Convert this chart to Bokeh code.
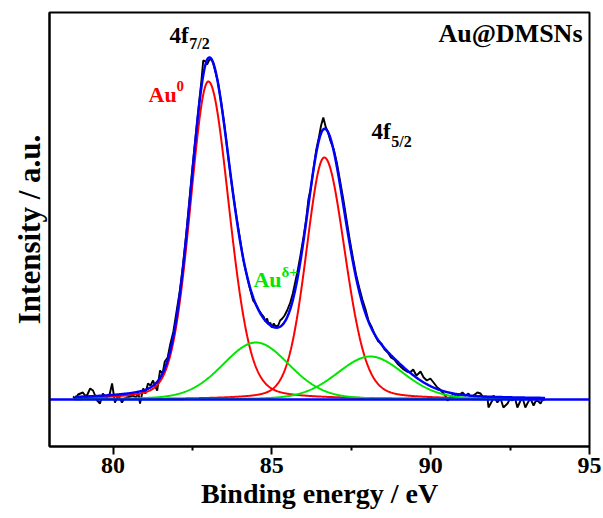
import numpy as np
from bokeh.plotting import figure
from bokeh.models import Label, FixedTicker, Range1d
from bokeh.embed import file_html
from bokeh.resources import INLINE

# ---- raw XPS spectrum (Au 4f), binding energy / eV and intensity / a.u. ----
energy = [78.74, 78.82, 78.90, 79.05, 79.12, 79.18, 79.28, 79.37, 79.45, 79.50,
          79.59, 79.68, 79.75, 79.81, 79.90, 79.97, 80.06, 80.16, 80.22, 80.28,
          80.36, 80.44, 80.55, 80.63, 80.72, 80.80, 80.85, 80.95, 81.02, 81.10,
          81.18, 81.26, 81.33, 81.39, 81.48, 81.56, 81.63, 81.72, 81.80, 81.90,
          82.00, 82.10, 82.20, 82.30, 82.40, 82.50, 82.60, 82.70, 82.78, 82.84,
          82.92, 82.96, 83.02, 83.08, 83.15, 83.22, 83.30, 83.40, 83.50, 83.60,
          83.70, 83.80, 83.90, 84.00, 84.10, 84.20, 84.30, 84.41, 84.50, 84.58,
          84.66, 84.74, 84.80, 84.85, 84.90, 84.95, 85.00, 85.06, 85.12, 85.20,
          85.26, 85.33, 85.40, 85.48, 85.58, 85.66, 85.74, 85.82, 85.90, 86.00,
          86.08, 86.15, 86.22, 86.30, 86.40, 86.48, 86.55, 86.62, 86.70, 86.76,
          86.85, 86.95, 87.05, 87.15, 87.25, 87.35, 87.45, 87.55, 87.65, 87.75,
          87.85, 87.95, 88.05, 88.15, 88.25, 88.35, 88.45, 88.55, 88.65, 88.75,
          88.85, 88.95, 89.05, 89.15, 89.25, 89.35, 89.45, 89.55, 89.62, 89.68,
          89.78, 89.88, 89.99, 90.09, 90.21, 90.30, 90.37, 90.46, 90.53, 90.62,
          90.72, 90.80, 90.87, 91.00, 91.09, 91.19, 91.27, 91.35, 91.47, 91.57,
          91.66, 91.79, 91.82, 91.94, 91.98, 92.10, 92.20, 92.29, 92.42, 92.50,
          92.57, 92.65, 92.73, 92.83, 92.90, 92.98, 93.06, 93.14, 93.24, 93.30,
          93.36, 93.46, 93.52, 93.58]
intensity = [0.03, 0.01, 0.05, 0.07, 0.04, 0.04, 0.11, 0.09, 0.03, -0.01,
             -0.04, 0.06, 0.03, 0.02, 0.06, 0.16, -0.03, 0.04, 0.01, -0.03,
             0.01, 0.02, 0.03, 0.04, 0.02, 0.06, -0.04, 0.11, 0.06, 0.16,
             0.14, 0.19, 0.13, 0.09, 0.29, 0.26, 0.38, 0.42, 0.55, 0.68,
             0.88, 1.08, 1.34, 1.64, 1.98, 2.32, 2.63, 2.94, 3.18, 3.39,
             3.38, 3.35, 3.39, 3.41, 3.37, 3.28, 3.18, 2.98, 2.76, 2.50,
             2.24, 2.01, 1.80, 1.60, 1.40, 1.26, 1.12, 0.99, 0.95, 0.90,
             0.86, 0.83, 0.78, 0.81, 0.75, 0.77, 0.72, 0.76, 0.73, 0.74,
             0.79, 0.81, 0.84, 0.89, 0.97, 1.06, 1.18, 1.30, 1.44, 1.63,
             1.80, 2.00, 2.10, 2.28, 2.50, 2.62, 2.74, 2.82, 2.72, 2.68,
             2.58, 2.50, 2.36, 2.18, 2.00, 1.80, 1.60, 1.42, 1.25, 1.12,
             1.00, 0.90, 0.78, 0.72, 0.64, 0.58, 0.56, 0.50, 0.47, 0.42,
             0.40, 0.36, 0.33, 0.30, 0.28, 0.27, 0.30, 0.24, 0.26, 0.28,
             0.22, 0.19, 0.21, 0.17, 0.12, 0.10, 0.07, 0.04, -0.01, 0.02,
             0.06, 0.03, 0.04, 0.07, 0.04, 0.06, 0.02, 0.04, 0.07, 0.06,
             0.02, 0.01, -0.08, -0.01, 0.04, -0.03, 0.01, -0.08, -0.04, 0.01,
             -0.01, 0.02, -0.08, -0.01, 0.01, -0.08, -0.03, 0.01, -0.06, -0.02,
             -0.01, -0.04, 0.00, -0.01]

# ---- fitted components (asymmetric pseudo-Voigt) ----
peak_center = [83.0, 86.65, 84.5, 88.1]
peak_height = [3.18, 2.42, 0.57, 0.43]
peak_fwhm_low = [1.35, 1.35, 2.5, 2.5]
peak_fwhm_high = [1.55, 1.55, 2.5, 2.5]
peak_mix = [0.2, 0.2, 0.2, 0.2]
peak_color = ["#ff0000", "#ff0000", "#00e600", "#00e600"]
fit_range = [78.8, 93.6]

x_ticks = [80, 85, 90, 95]
x_minor_ticks = [82.5, 87.5, 92.5]

FONT = "Liberation Serif"


def component(x, c, h, wl, wr, eta):
    w = np.where(x < c, wl, wr)
    t = (x - c) / w
    return h * ((1 - eta) * np.exp(-4 * np.log(2) * t ** 2) + eta / (1 + 4 * t ** 2))


xf = np.linspace(fit_range[0], fit_range[1], 800)
comps = [component(xf, c, h, wl, wr, e) for c, h, wl, wr, e in
         zip(peak_center, peak_height, peak_fwhm_low, peak_fwhm_high, peak_mix)]
envelope = np.sum(comps, axis=0)

p = figure(width=603, height=518, output_backend="svg", toolbar_location=None,
           x_range=Range1d(78, 95), y_range=Range1d(-0.47, 3.87),
           min_border_left=49, min_border_right=14, min_border_top=12,
           min_border_bottom=72, background_fill_color="white",
           border_fill_color="white")
p.frame_width = 540
p.frame_height = 434
p.grid.visible = False
p.outline_line_color = "black"
p.outline_line_width = 2

p.line(energy, intensity, line_color="black", line_width=1.9)
for yc, col in zip(comps, peak_color):
    p.line(xf, yc, line_color=col, line_width=2)
p.line([78, 95], [0, 0], line_color="#0000ff", line_width=2.5)
p.line(xf, envelope, line_color="#0000ff", line_width=2.5)

xa = p.xaxis[0]
xa.ticker = FixedTicker(ticks=x_ticks, minor_ticks=x_minor_ticks)
xa.axis_line_width = 2
xa.major_tick_line_width = 2
xa.minor_tick_line_width = 2
xa.major_tick_in = 0
xa.major_tick_out = 8
xa.minor_tick_in = 0
xa.minor_tick_out = 4
xa.major_label_text_font = FONT
xa.major_label_text_font_style = "bold"
xa.major_label_text_font_size = "24px"
xa.major_label_text_color = "black"
xa.major_label_standoff = 3
xa.axis_label = "Binding energy / eV"
xa.axis_label_text_font = FONT
xa.axis_label_text_font_style = "bold"
xa.axis_label_text_font_size = "28px"
xa.axis_label_text_color = "black"
xa.axis_label_standoff = 2

ya = p.yaxis[0]
ya.ticker = FixedTicker(ticks=[])
ya.axis_line_width = 2
ya.major_tick_out = 0
ya.major_tick_in = 0
ya.minor_tick_out = 0
ya.minor_tick_in = 0
ya.major_label_text_font_size = "0px"
ya.axis_label = "Intensity / a.u."
ya.axis_label_text_font = FONT
ya.axis_label_text_font_style = "bold"
ya.axis_label_text_font_size = "31px"
ya.axis_label_text_color = "black"
ya.axis_label_standoff = 3


def add_text(x, y, text, size, color="black", align="left"):
    p.add_layout(Label(x=x, y=y, text=text, text_font=FONT, text_font_style="bold",
                       text_font_size=size, text_color=color, text_align=align,
                       text_baseline="middle"))


add_text(94.78, 3.66, "Au@DMSNs", "26px", align="right")
add_text(81.78, 3.64, "4f", "23px")
add_text(82.40, 3.56, "7/2", "16px")
add_text(88.14, 2.68, "4f", "23px")
add_text(88.76, 2.58, "5/2", "16px")
add_text(81.12, 3.05, "Au", "22px", color="#ff0000")
add_text(82.00, 3.14, "0", "15px", color="#ff0000")
add_text(84.42, 1.20, "Au", "22px", color="#00e600")
add_text(85.30, 1.28, "\u03b4+", "15px", color="#00e600")

open("out.html", "w").write(file_html(p, INLINE))
